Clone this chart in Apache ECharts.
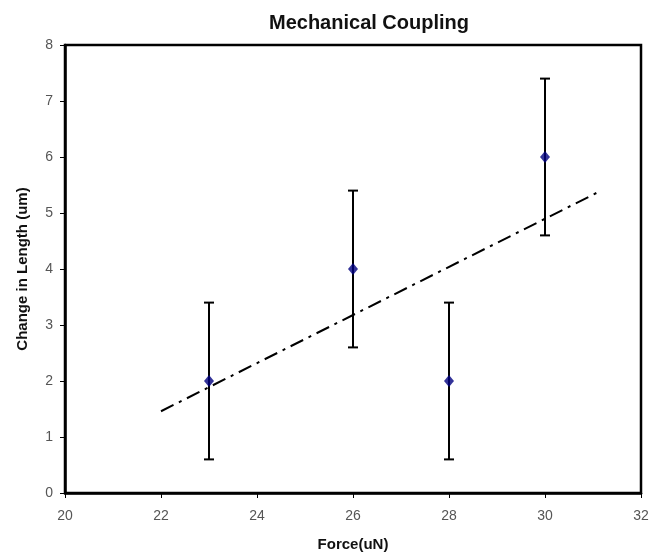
<!DOCTYPE html>
<html><head><meta charset="utf-8">
<script src="https://cdn.jsdelivr.net/npm/echarts@6/dist/echarts.min.js"></script>
<style>html,body{margin:0;padding:0;background:#fff}#c{width:662px;height:557px}</style>
</head><body><div id="c"></div>
<script>
var force = [23, 26, 28, 30];
var change = [2, 4, 2, 6];
var errLow = [0.6, 2.6, 0.6, 4.6];
var errHigh = [3.4, 5.4, 3.4, 7.4];
var trendX = [22, 31.1];
var trendY = [1.46, 5.37];
var xTicks = [20, 22, 24, 26, 28, 30, 32];
var yTicks = [0, 1, 2, 3, 4, 5, 6, 7, 8];

var chart = echarts.init(document.getElementById('c'));
var font = 'Liberation Sans, Arial, sans-serif';
chart.setOption({
  backgroundColor: '#fff',
  animation: false,
  title: {text: 'Mechanical Coupling', left: 364, textAlign: 'center', top: 8,
    textStyle: {fontFamily: font, fontSize: 20, fontWeight: 'bold', color: '#111'}},
  grid: {left: 65, right: 21, top: 45, bottom: 63, show: true, borderColor: '#000', borderWidth: 2.5},
  xAxis: {type: 'value', min: xTicks[0], max: xTicks[xTicks.length-1], interval: 2,
    name: 'Force(uN)', nameLocation: 'middle', nameGap: 44,
    nameTextStyle: {fontFamily: font, fontSize: 15, fontWeight: 'bold', color: '#111'},
    axisLine: {show: true, lineStyle: {color: '#000', width: 2.5}},
    axisTick: {show: true, length: 5, lineStyle: {color: '#000', width: 1}},
    axisLabel: {fontFamily: font, fontSize: 14, color: '#555', margin: 16},
    splitLine: {show: false}},
  yAxis: {type: 'value', min: yTicks[0], max: yTicks[yTicks.length-1], interval: 1,
    name: 'Change in Length (um)', nameLocation: 'middle', nameGap: 35,
    nameTextStyle: {fontFamily: font, fontSize: 15, fontWeight: 'bold', color: '#111'},
    axisLine: {show: true, lineStyle: {color: '#000', width: 2.5}},
    axisTick: {show: true, length: 5, lineStyle: {color: '#000', width: 1}},
    axisLabel: {fontFamily: font, fontSize: 14, color: '#555', margin: 12},
    splitLine: {show: false}},
  series: [
    {type: 'line', data: trendX.map(function(x,i){return [x, trendY[i]];}),
      symbol: 'none', lineStyle: {color: '#000', width: 2, type: [14, 6, 3, 6]}, z: 2},
    {type: 'custom', z: 3,
      data: force.map(function(x,i){return [x, errLow[i], errHigh[i]];}),
      renderItem: function(params, api){
        var lo = api.coord([api.value(0), api.value(1)]);
        var hi = api.coord([api.value(0), api.value(2)]);
        var w = 5;
        var st = {stroke: '#000', lineWidth: 2};
        return {type: 'group', children: [
          {type: 'line', shape: {x1: lo[0], y1: lo[1], x2: hi[0], y2: hi[1]}, style: st},
          {type: 'line', shape: {x1: lo[0]-w, y1: lo[1], x2: lo[0]+w, y2: lo[1]}, style: st},
          {type: 'line', shape: {x1: hi[0]-w, y1: hi[1], x2: hi[0]+w, y2: hi[1]}, style: st}
        ]};
      }},
    {type: 'scatter', z: 4, data: force.map(function(x,i){return [x, change[i]];}),
      symbol: 'diamond', symbolSize: [10, 12], itemStyle: {color: '#000080'}}
  ]
});
</script></body></html>
